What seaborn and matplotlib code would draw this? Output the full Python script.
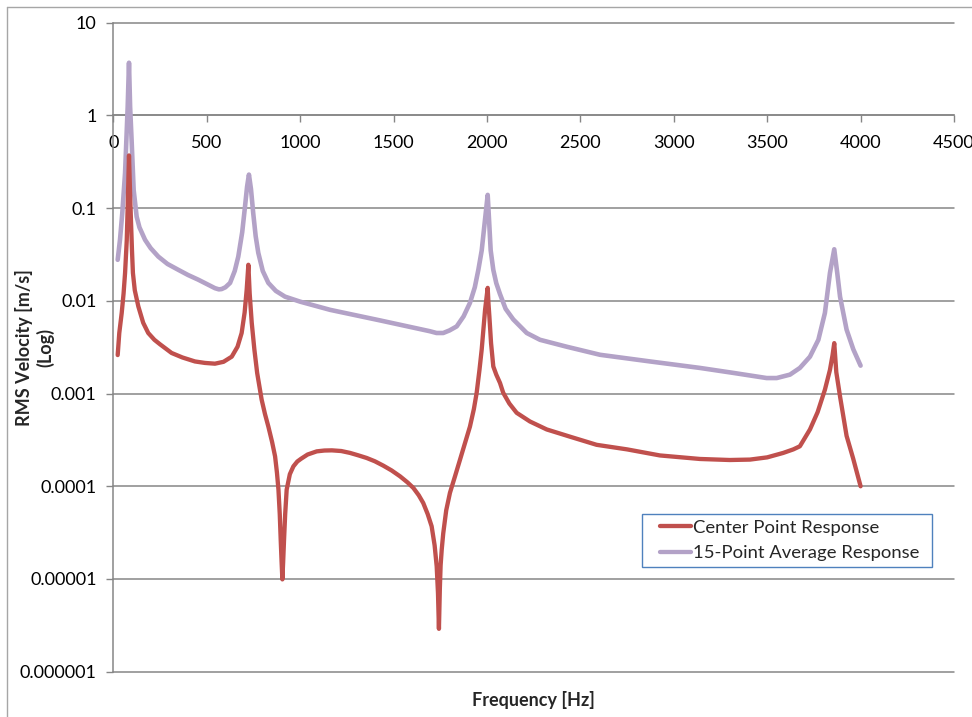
import matplotlib
matplotlib.use("Agg")
import matplotlib.pyplot as plt
import seaborn as sns
import numpy as np
import pandas as pd
from matplotlib.ticker import FixedLocator, FixedFormatter, NullLocator
from matplotlib.lines import Line2D
from matplotlib.patches import Rectangle

# ---- data ----
center_freq = [23.5, 32, 45, 55, 63, 72, 77, 84, 90, 95, 100, 105, 115, 134, 160, 187,
               220, 250, 312, 370, 437, 490, 544, 590, 634, 665, 687, 703, 714, 723,
               730, 741, 755, 770, 794, 812, 830, 850, 866, 876, 884, 891, 896, 901,
               905, 909, 914, 920, 928, 945, 964, 985, 1005, 1040, 1089, 1130, 1170,
               1220, 1267, 1310, 1356, 1400, 1445, 1490, 1535, 1575, 1606, 1635, 1659,
               1683, 1704, 1720, 1731, 1738, 1743, 1748, 1752, 1758, 1766, 1782, 1802,
               1830, 1856, 1882, 1909, 1930, 1945, 1960, 1972, 1990, 2004, 2008, 2013,
               2022, 2034, 2050, 2070, 2087, 2120, 2159, 2230, 2320, 2450, 2587, 2750,
               2926, 3140, 3300, 3408, 3500, 3586, 3640, 3675, 3729, 3770, 3809, 3836,
               3850, 3859, 3870, 3890, 3925, 3960, 4000]
center_vel = [0.0026, 0.0045, 0.0074, 0.012, 0.020, 0.045, 0.104, 0.37, 0.14, 0.069,
              0.035, 0.020, 0.013, 0.0087, 0.0058, 0.0045, 0.0038, 0.0034, 0.00274,
              0.00245, 0.00222, 0.00214, 0.00210, 0.00220, 0.0025, 0.0032, 0.0045,
              0.0075, 0.0132, 0.0245, 0.012, 0.0058, 0.0030, 0.00167, 0.00086, 0.0006,
              0.00044, 0.0003, 0.00021, 0.00014, 0.000092, 0.00005, 0.0000267,
              0.000015, 0.0000099, 0.000015, 0.0000267, 0.00005, 0.000092, 0.000135,
              0.000164, 0.000185, 0.000198, 0.00022, 0.000238, 0.000243, 0.000244,
              0.00024, 0.000229, 0.000216, 0.000202, 0.000186, 0.000167, 0.000148,
              0.000128, 0.00011, 0.000096, 0.00008, 0.000066, 0.00005, 0.000037,
              0.000023, 0.0000137, 0.000007, 0.0000029, 0.000008, 0.000014, 0.0000208,
              0.000031, 0.000055, 0.000085, 0.00013, 0.000194, 0.00029, 0.00044,
              0.00068, 0.00102, 0.0018, 0.0030, 0.008, 0.0138, 0.0095, 0.0068, 0.0035,
              0.00196, 0.0016, 0.0013, 0.00102, 0.00078, 0.00062, 0.0005, 0.00041,
              0.00034, 0.00028, 0.00025, 0.000215, 0.000197, 0.000192, 0.000194,
              0.000205, 0.000229, 0.00025, 0.00027, 0.00041, 0.00063, 0.0011, 0.0018,
              0.0026, 0.0035, 0.0017, 0.00093, 0.00035, 0.0002, 0.0001]

avg_freq = [23.5, 36, 48, 63, 77, 84, 90, 98, 109, 125, 140, 170, 200, 241, 290, 348,
            400, 455, 500, 544, 565, 580, 600, 625, 650, 669, 690, 705, 716, 726, 737,
            749, 762, 776, 800, 830, 870, 919, 1000, 1160, 1428, 1695, 1730, 1766,
            1800, 1838, 1875, 1909, 1935, 1954, 1972, 1988, 2004, 2012, 2020, 2034,
            2050, 2070, 2100, 2141, 2213, 2284, 2427, 2605, 2873, 3140, 3319, 3497,
            3551, 3622, 3675, 3729, 3774, 3809, 3836, 3859, 3875, 3890, 3925, 3961,
            4000]
avg_vel = [0.0277, 0.046, 0.088, 0.24, 1.24, 3.7, 1.24, 0.54, 0.157, 0.081, 0.062,
           0.0455, 0.037, 0.030, 0.025, 0.0216, 0.019, 0.0169, 0.0152, 0.0137, 0.0133,
           0.0134, 0.0140, 0.0156, 0.021, 0.030, 0.055, 0.104, 0.17, 0.23, 0.16, 0.088,
           0.05, 0.033, 0.021, 0.0156, 0.0128, 0.0111, 0.0098, 0.0080, 0.00615, 0.0047,
           0.0045, 0.0045, 0.0048, 0.0053, 0.0068, 0.0095, 0.014, 0.0216, 0.035, 0.07,
           0.139, 0.07, 0.035, 0.0216, 0.0155, 0.0118, 0.0082, 0.0063, 0.0045, 0.0038,
           0.0032, 0.00262, 0.00222, 0.00189, 0.00167, 0.00147, 0.00147, 0.0016,
           0.00189, 0.0025, 0.0038, 0.0074, 0.020, 0.036, 0.020, 0.0111, 0.0049,
           0.0030, 0.0020]

series_names = ["Center Point Response", "15-Point Average Response"]
series_colors = ["#C0504D", "#B3A2C7"]

x_ticks = [0, 500, 1000, 1500, 2000, 2500, 3000, 3500, 4000, 4500]
x_tick_labels = ["0", "500", "1000", "1500", "2000", "2500", "3000", "3500", "4000", "4500"]
y_ticks = [1e-6, 1e-5, 1e-4, 1e-3, 1e-2, 1e-1, 1, 10]
y_tick_labels = ["0.000001", "0.00001", "0.0001", "0.001", "0.01", "0.1", "1", "10"]

x_title = "Frequency [Hz]"
y_title = "RMS Velocity [m/s]\n(Log)"

# ---- style ----
sns.set_style("white")
plt.rcParams["font.family"] = ["Lato", "DejaVu Sans"]

GRID = "#868686"
W, H = 972, 717
fig = plt.figure(figsize=(W / 100, H / 100), dpi=100)
ax_l, ax_r, ax_t, ax_b = 113.3, 954.0, 22.7, 671.7
ax = fig.add_axes([ax_l / W, 1 - ax_b / H, (ax_r - ax_l) / W, (ax_b - ax_t) / H])

df_avg = pd.DataFrame({"f": avg_freq, "v": avg_vel})
df_ctr = pd.DataFrame({"f": center_freq, "v": center_vel})

sns.lineplot(data=df_avg, x="f", y="v", ax=ax, color=series_colors[1], lw=3.3,
             label=series_names[1], sort=False, estimator=None, zorder=3,
             solid_joinstyle="round", solid_capstyle="round")
sns.lineplot(data=df_ctr, x="f", y="v", ax=ax, color=series_colors[0], lw=3.1,
             label=series_names[0], sort=False, estimator=None, zorder=4,
             solid_joinstyle="round", solid_capstyle="round")

ax.set_yscale("log")
ax.set_xlim(0, 4500)
ax.set_ylim(1e-6, 10)

ax.yaxis.set_major_locator(FixedLocator(y_ticks))
ax.yaxis.set_major_formatter(FixedFormatter(y_tick_labels))
ax.yaxis.set_minor_locator(NullLocator())
ax.xaxis.set_major_locator(FixedLocator(x_ticks))
ax.xaxis.set_major_formatter(FixedFormatter(x_tick_labels))
ax.xaxis.set_minor_locator(NullLocator())

for s in ["top", "right"]:
    ax.spines[s].set_visible(False)
ax.spines["left"].set_color(GRID)
ax.spines["left"].set_linewidth(1.1)
ax.spines["bottom"].set_position(("data", 1))
ax.spines["bottom"].set_color(GRID)
ax.spines["bottom"].set_linewidth(1.1)

ax.tick_params(axis="y", which="major", left=True, direction="out", length=5,
               width=1, color=GRID, pad=7, labelsize=13, labelcolor="black")
ax.tick_params(axis="x", which="major", bottom=True, direction="out", length=5,
               width=1, color=GRID, pad=9, labelsize=13, labelcolor="black")

ax.yaxis.grid(True, color=GRID, lw=1.1)
ax.xaxis.grid(False)
ax.set_axisbelow(True)

ax.set_xlabel(x_title, fontsize=13, fontweight="bold")
ax.set_ylabel(y_title, fontsize=13, fontweight="bold", linespacing=1.2)
ax.xaxis.set_label_coords(0.5, (ax_b - 691) / (ax_b - ax_t))
ax.yaxis.set_label_coords((54 - ax_l) / (ax_r - ax_l), 0.5)

# legend (frame drawn separately so its padding matches the reference)
to_ax_x = lambda px: (px - ax_l) / (ax_r - ax_l)
to_ax_y = lambda py: (ax_b - py) / (ax_b - ax_t)
handles, labels = ax.get_legend_handles_labels()
leg = ax.legend(handles[::-1], labels[::-1], loc="center left",
                bbox_to_anchor=(to_ax_x(660), to_ax_y(540.5)),
                frameon=False, handlelength=1.66, handletextpad=0.12, borderpad=0,
                labelspacing=0.5, borderaxespad=0, fontsize=13.3)
for ln in leg.get_lines():
    ln.set_linewidth(3.1)
ax.add_patch(Rectangle((to_ax_x(642), to_ax_y(566.7)), to_ax_x(932) - to_ax_x(642),
                       to_ax_y(514.3) - to_ax_y(566.7), transform=ax.transAxes,
                       facecolor="white", edgecolor="#4F81BD", lw=1.0, zorder=5,
                       clip_on=False))
leg.set_zorder(6)

fig.canvas.draw()
for gl in ax.yaxis.get_gridlines():
    gl.set_clip_on(False)

# chart-area border
fig.add_artist(Line2D([7 / W, 1], [1 - 7 / H, 1 - 7 / H], color="#A6A6A6", lw=1.0,
                      transform=fig.transFigure))
fig.add_artist(Line2D([7 / W, 7 / W], [0, 1 - 7 / H], color="#A6A6A6", lw=1.0,
                      transform=fig.transFigure))

fig.savefig("out.png", dpi=100)
